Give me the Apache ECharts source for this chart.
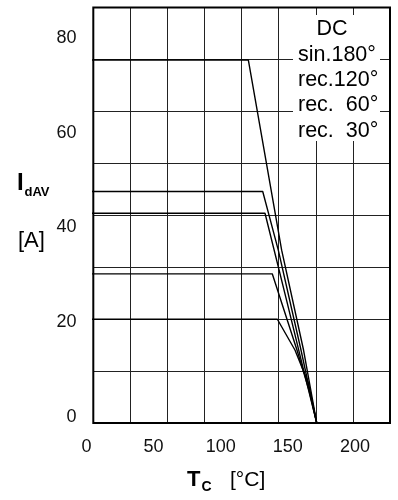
<!DOCTYPE html>
<html>
<head>
<meta charset="utf-8">
<script src="https://cdn.jsdelivr.net/npm/echarts@6/dist/echarts.min.js"></script>
<style>
html,body{margin:0;padding:0;background:#fff;}
#chart{width:398px;height:500px;}
</style>
</head>
<body>
<div id="chart"></div>
<script>
// ---- data ----
const xTicks = [0, 50, 100, 150, 200];
const yTicks = [0, 20, 40, 60, 80];
const legendLabels = ['DC', 'sin.180°', 'rec.120°', 'rec.  60°', 'rec.  30°'];

const tempDC     = [0, 120.6, 145.4, 161.7, 171.5];
const currDC     = [75.4, 75.4, 35.2, 14.1, -1.3];
const tempSin180 = [0, 131.3, 142.9, 159.8, 171.5];
const currSin180 = [47.6, 47.6, 35.2, 14.1, -1.3];
const tempRec120 = [0, 133.0, 149.0, 161.7, 171.5];
const currRec120 = [43.0, 43.0, 24.7, 9.9, -1.3];
const tempRec60  = [0, 138.4, 156.8, 165.8, 171.5];
const currRec60  = [30.2, 30.2, 14.1, 5.6, -1.3];
const tempRec30  = [0, 142.2, 155.3, 165.3, 171.5];
const currRec30  = [20.6, 20.6, 14.1, 7.1, -1.3];

const curves = [
  [tempDC, currDC],
  [tempSin180, currSin180],
  [tempRec120, currRec120],
  [tempRec60, currRec60],
  [tempRec30, currRec30]
];

const FONT = "'Liberation Sans', Arial, sans-serif";
const chart = echarts.init(document.getElementById('chart'), null, {renderer: 'canvas'});

const series = curves.map((c, i) => ({
  type: 'line',
  name: legendLabels[i],
  xAxisIndex: 0,
  yAxisIndex: 0,
  data: c[0].map((t, k) => [t, c[1][k]]),
  symbol: 'none',
  clip: true,
  lineStyle: {color: '#000', width: 1.4},
  silent: true,
  animation: false
}));

const legendY = [29, 55, 80, 105, 131];
const graphics = [
  {type: 'rect', z: 100, shape: {x: 293, y: 15, width: 87, height: 126}, style: {fill: '#fff'}}
];
legendLabels.forEach((t, i) => {
  graphics.push({
    type: 'text', z: 101,
    x: i === 0 ? 332 : 298, y: legendY[i],
    style: {text: t, font: '21.5px ' + FONT, fill: '#000',
            textAlign: i === 0 ? 'center' : 'left', textVerticalAlign: 'middle'}
  });
});
graphics.push(
  {type: 'text', z: 101, x: 17, y: 183, style: {text: 'I', font: 'bold 24px ' + FONT, fill: '#000', textAlign: 'left', textVerticalAlign: 'middle'}},
  {type: 'text', z: 101, x: 24.5, y: 192, style: {text: 'dAV', font: 'bold 13px ' + FONT, fill: '#000', textAlign: 'left', textVerticalAlign: 'middle'}},
  {type: 'text', z: 101, x: 18, y: 241, style: {text: '[A]', font: '22px ' + FONT, fill: '#000', textAlign: 'left', textVerticalAlign: 'middle'}},
  {type: 'text', z: 101, x: 187, y: 480, style: {text: 'T', font: 'bold 22px ' + FONT, fill: '#000', textAlign: 'left', textVerticalAlign: 'middle'}},
  {type: 'text', z: 101, x: 201.5, y: 487, style: {text: 'C', font: 'bold 14px ' + FONT, fill: '#000', textAlign: 'left', textVerticalAlign: 'middle'}},
  {type: 'text', z: 101, x: 230, y: 480, style: {text: '[°C]', font: '21px ' + FONT, fill: '#000', textAlign: 'left', textVerticalAlign: 'middle'}}
);

const option = {
  animation: false,
  backgroundColor: '#fff',
  grid: [
    {left: 93.3, top: 7.5, width: 296.7, height: 415.5, show: true, borderColor: '#000', borderWidth: 2, backgroundColor: 'transparent', z: 3},
    {left: 86.45, top: 38.3, width: 268.5, height: 378.4, show: false}
  ],
  xAxis: [
    {type: 'value', gridIndex: 0, min: 5.1, max: 226.1, show: false},
    {type: 'value', gridIndex: 0, position: 'top', min: 0, max: 8, interval: 1,
     axisLine: {show: false}, axisTick: {show: false}, axisLabel: {show: false},
     splitLine: {show: true, lineStyle: {color: '#222', width: 1}}},
    {type: 'value', gridIndex: 1, min: xTicks[0], max: xTicks[xTicks.length - 1], interval: 50,
     axisLine: {show: false}, axisTick: {show: false}, splitLine: {show: false},
     axisLabel: {show: true, margin: 21, color: '#111', fontSize: 18, fontFamily: FONT,
                 formatter: v => xTicks.includes(v) ? String(v) : ''}}
  ],
  yAxis: [
    {type: 'value', gridIndex: 0, min: -1.33, max: 86.5, show: false},
    {type: 'value', gridIndex: 0, position: 'right', min: 0, max: 8, interval: 1,
     axisLine: {show: false}, axisTick: {show: false}, axisLabel: {show: false},
     splitLine: {show: true, lineStyle: {color: '#222', width: 1}}},
    {type: 'value', gridIndex: 1, min: yTicks[0], max: yTicks[yTicks.length - 1], interval: 20,
     axisLine: {show: false}, axisTick: {show: false}, splitLine: {show: false},
     axisLabel: {show: true, margin: 10, color: '#111', fontSize: 18, fontFamily: FONT,
                 formatter: v => yTicks.includes(v) ? String(v) : ''}}
  ],
  series: series,
  graphic: graphics
};
chart.setOption(option);
</script>
</body>
</html>
